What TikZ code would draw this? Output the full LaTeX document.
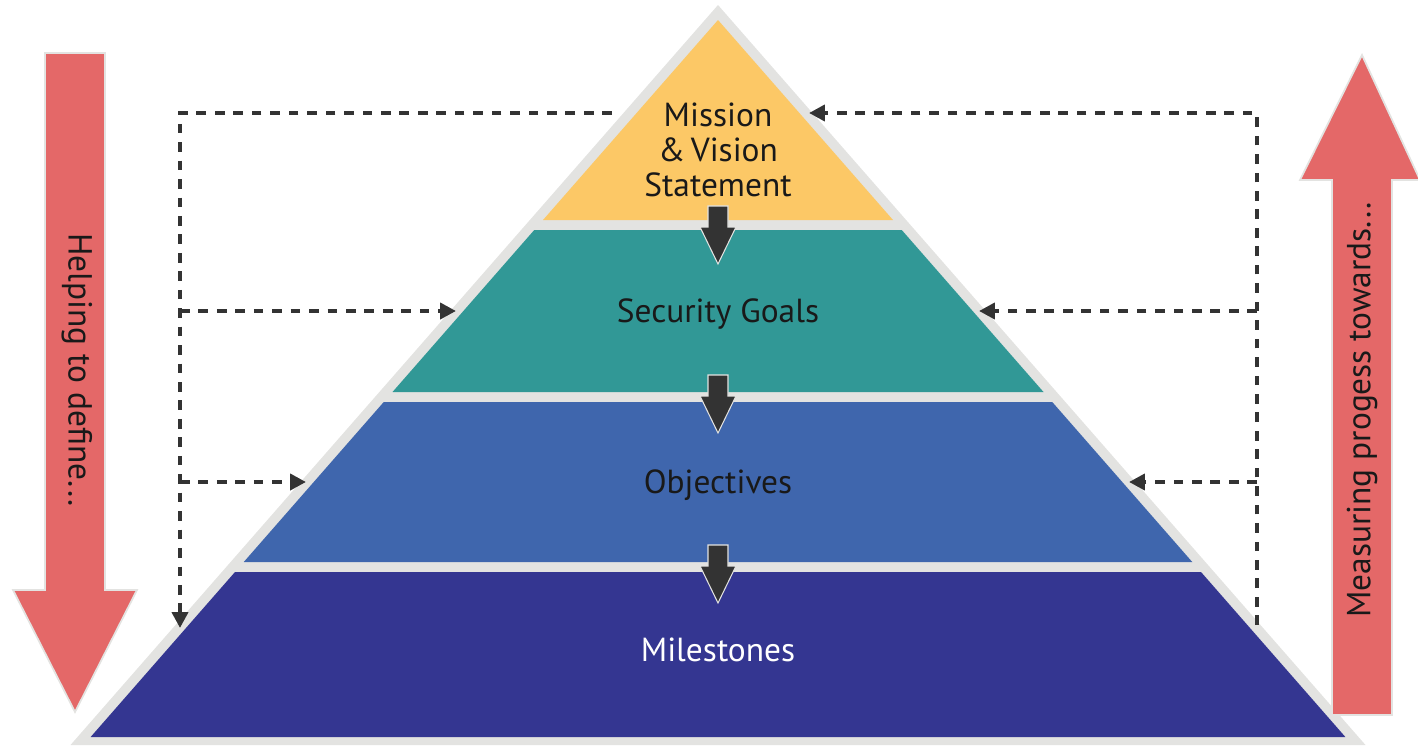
\documentclass[tikz,border=0pt]{standalone}
\usepackage{fontspec}
\setmainfont{PT Sans}
\usetikzlibrary{arrows.meta}
\definecolor{rimgray}{HTML}{E3E3E1}
\definecolor{missioncol}{HTML}{FCC866}
\definecolor{goalcol}{HTML}{319896}
\definecolor{objectcol}{HTML}{3F66AD}
\definecolor{milecol}{HTML}{343691}
\definecolor{redarrow}{HTML}{E46868}
\definecolor{inkgray}{HTML}{333333}
\begin{document}
\begin{tikzpicture}[x=0.02cm,y=-0.02cm,
  label/.style={font=\fontsize{19}{20}\selectfont, text=black!90, align=center},
  dashlink/.style={draw=inkgray, line width=2.4pt, dash pattern=on 5.5pt off 5pt, -{Triangle[length=9pt,width=9pt]}},
  bigarrow/.style={fill=redarrow, draw=rimgray, line width=1pt},
  blockarrow/.style={fill=inkgray, draw=rimgray, line width=0.6pt}]
\useasboundingbox (0,0) rectangle (1418,747);
\pgfmathsetmacro\s{0.875};
% pyramid
\fill[rimgray] (718,5) -- (718+\s*740,745) -- (718-\s*740,745) -- cycle;
\foreach \t/\b/\c in {20/220/missioncol,230/392/goalcol,402/562/objectcol,572/737/milecol} {
  \pgfmathsetmacro\wt{\s*(\t-20)};
  \pgfmathsetmacro\wb{\s*(\b-20)};
  \fill[\c] (718-\wt,\t) -- (718+\wt,\t) -- (718+\wb,\b) -- (718-\wb,\b) -- cycle;
}
\node[label] (mission) at (718,150) {Mission\\\&\,Vision\\Statement};
\node[label] (goals) at (718,314) {Security Goals};
\node[label] (objectives) at (718,485) {Objectives};
\node[label, text=white] (milestones) at (718,650) {Milestones};
% arrows between layers
\foreach \y in {206,375,545}
  \draw[blockarrow] (708,\y) -- (728,\y) -- (728,\y+21) -- (736,\y+21) -- (718,\y+58) -- (700,\y+21) -- (708,\y+21) -- cycle;
% side arrows
\draw[bigarrow] (45,53) -- (105,53) -- (105,590) -- (137,590) -- (75,712) -- (13,590) -- (45,590) -- cycle;
\draw[bigarrow] (1332,715) -- (1392,715) -- (1392,180) -- (1420,180) -- (1362,55) -- (1300,180) -- (1332,180) -- cycle;
\node[label, rotate=-90] (helping) at (77,370) {Helping to define...};
\node[label, rotate=90] (measuring) at (1362,410) {Measuring progess towards...};
% dashed links
\coordinate (lt) at (612,113);
\coordinate (lc) at (180,113);
\coordinate (lb) at (180,628);
\coordinate (lg) at (456,311);
\coordinate (lo) at (306,482);
\coordinate (rc) at (1257,113);
\coordinate (rb) at (1257,625);
\coordinate (rm) at (809,113);
\coordinate (rg) at (979,311);
\coordinate (ro) at (1129,482);
\draw[dashlink] (lt) -- (lc) -- (lb);
\draw[dashlink] (lc |- lg) -- (lg);
\draw[dashlink] (lc |- lo) -- (lo);
\draw[dashlink] (rb) -- (rc) -- (rm);
\draw[dashlink] (rc |- rg) -- (rg);
\draw[dashlink] (rc |- ro) -- (ro);
\end{tikzpicture}
\end{document}
